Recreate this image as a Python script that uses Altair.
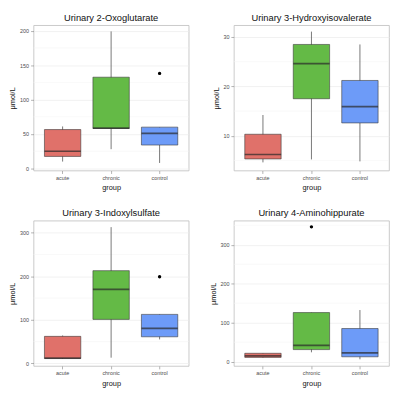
import altair as alt
import pandas as pd

groups = ["acute", "chronic", "control"]
colors = ["#E0716A", "#64BA46", "#6D9BF8"]

titles = [
    "Urinary 2-Oxoglutarate",
    "Urinary 3-Hydroxyisovalerate",
    "Urinary 3-Indoxylsulfate",
    "Urinary 4-Aminohippurate",
]

# box statistics per panel: acute, chronic, control
p1_lo = [10, 28, 8]
p1_q1 = [17.5, 58, 34]
p1_med = [25, 58.5, 51]
p1_q3 = [56.5, 132.5, 60]
p1_hi = [61, 199, 60]
p1_out_group = ["control"]
p1_out_val = [138]

p2_lo = [4.6, 5.2, 4.8]
p2_q1 = [5.3, 17.5, 12.6]
p2_med = [6.2, 24.6, 15.9]
p2_q3 = [10.3, 28.5, 21.2]
p2_hi = [14.2, 31.1, 28.5]
p2_out_group = []
p2_out_val = []

p3_lo = [10, 13, 55]
p3_q1 = [11, 101, 61]
p3_med = [12, 170, 80.5]
p3_q3 = [62, 213, 112.5]
p3_hi = [64, 313, 112.5]
p3_out_group = ["control"]
p3_out_val = [199]

p4_lo = [10, 24, 6]
p4_q1 = [11, 31, 12.5]
p4_med = [15, 42, 22.5]
p4_q3 = [21.5, 126, 85]
p4_hi = [22, 126, 132.5]
p4_out_group = ["chronic"]
p4_out_val = [346]

major_ticks = [[0, 50, 100, 150, 200], [10, 20, 30], [0, 100, 200, 300], [0, 100, 200, 300]]
minor_ticks = [[25, 75, 125, 175], [5, 15, 25], [50, 150, 250], [50, 150, 250, 350]]
y_domains = [[-3, 208], [2.95, 32.4], [-6, 328], [-11, 362]]

stats = [
    (p1_lo, p1_q1, p1_med, p1_q3, p1_hi, p1_out_group, p1_out_val),
    (p2_lo, p2_q1, p2_med, p2_q3, p2_hi, p2_out_group, p2_out_val),
    (p3_lo, p3_q1, p3_med, p3_q3, p3_hi, p3_out_group, p3_out_val),
    (p4_lo, p4_q1, p4_med, p4_q3, p4_hi, p4_out_group, p4_out_val),
]

W, H = 158, 148
box_px = 0.75 * W / 3.2

FONT = "Liberation Sans"


def panel(i):
    lo, q1, med, q3, hi, og, ov = stats[i]
    df = pd.DataFrame({"group": groups, "lo": lo, "q1": q1, "med": med, "q3": q3, "hi": hi})
    xs = alt.Scale(domain=groups, paddingInner=0, paddingOuter=0.1)
    xaxis = alt.Axis(title="group", bandPosition=0.5, labelAngle=0)
    ys = alt.Scale(domain=y_domains[i], nice=False, zero=False)
    yaxis = alt.Axis(title="μmol/L", values=major_ticks[i])
    cs = alt.Scale(domain=groups, range=colors)

    minor = alt.Chart(pd.DataFrame({"v": minor_ticks[i]})).mark_rule(
        color="#F5F5F5", strokeWidth=0.6
    ).encode(
        y=alt.Y("v:Q", scale=ys, axis=yaxis),
        x=alt.value(0), x2=alt.value(W),
    )
    base = alt.Chart(df).encode(x=alt.X("group:N", scale=xs, axis=xaxis))
    whisk = base.mark_rule(color="#555555", strokeWidth=0.8).encode(
        y=alt.Y("lo:Q", scale=ys, axis=yaxis), y2="hi:Q"
    )
    box = base.mark_bar(
        width=alt.RelativeBandSize(0.75), stroke="#3a3a3a", strokeWidth=0.6
    ).encode(
        y=alt.Y("q1:Q", scale=ys, axis=yaxis), y2="q3:Q",
        color=alt.Color("group:N", scale=cs, legend=None),
    )
    medl = base.mark_tick(size=box_px, thickness=1.7, color="#2a2a2a").encode(
        y=alt.Y("med:Q", scale=ys, axis=yaxis)
    )
    layers = [minor, whisk, box, medl]
    if og:
        odf = pd.DataFrame({"group": og, "v": ov})
        outl = alt.Chart(odf).mark_circle(size=12, color="black", opacity=1).encode(
            x=alt.X("group:N", scale=xs, axis=xaxis),
            y=alt.Y("v:Q", scale=ys, axis=yaxis),
        )
        layers.append(outl)
    return alt.layer(*layers).properties(
        width=W, height=H,
        title=alt.TitleParams(titles[i], fontSize=9.5, font=FONT, fontWeight="normal",
                              color="#111111", offset=3),
    )


chart = alt.concat(
    panel(0), panel(1), panel(2), panel(3), columns=2, spacing={"row": 16, "column": 19}
).configure(
    padding={"left": 0, "top": 1, "right": 0, "bottom": 0},
).configure_view(
    stroke="#BDBDBD", strokeWidth=0.8
).configure_axis(
    labelFont=FONT, titleFont=FONT, labelFontSize=5.5, titleFontSize=7.5,
    labelColor="#4d4d4d", titleColor="#111111", titleFontWeight="normal",
    tickColor="#7f7f7f", tickSize=3, tickWidth=0.6, domain=False,
    gridColor="#EBEBEB", gridWidth=0.7, labelPadding=2, titlePadding=3,
)

chart.save("out.html", embed_options={"renderer": "svg", "actions": False})
